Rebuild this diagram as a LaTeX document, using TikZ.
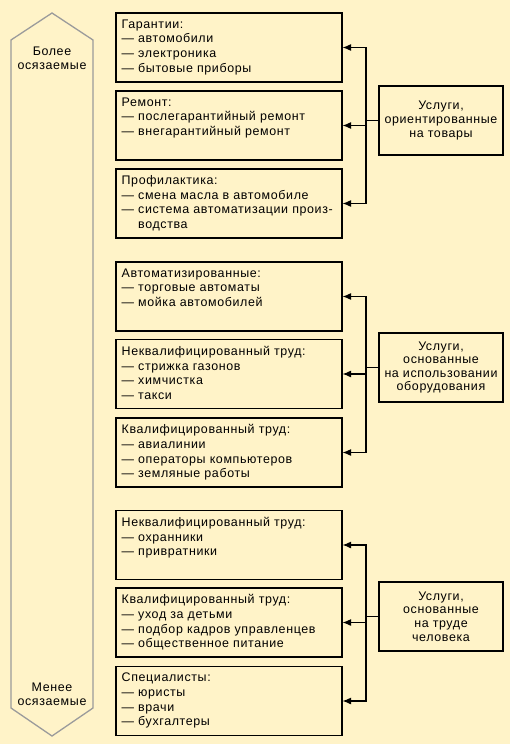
\documentclass[tikz,border=0pt]{standalone}
\usepackage{fontspec}
\setmainfont{Liberation Sans}[LetterSpace=5]
\usetikzlibrary{arrows.meta}
\definecolor{bg}{RGB}{255,243,200}
\definecolor{edge}{RGB}{155,155,155}
\newcommand{\dsh}{—\ }
\newcommand{\indt}{\phantom{—\ }}
\begin{document}
\begin{tikzpicture}[x=1bp,y=-1bp,
  box/.style={draw=black,line width=1.1bp,minimum width=226bp,minimum height=69bp,inner sep=0pt},
  rbox/.style={draw=black,line width=1.1bp,minimum width=124bp,minimum height=69bp,inner sep=0pt,align=center,font=\fontsize{12.5}{13.6}\selectfont},
  txt/.style={anchor=north west,align=left,inner sep=0pt,font=\fontsize{12.5}{14.7}\selectfont},
  side/.style={align=center,inner sep=0pt,font=\fontsize{12.5}{14}\selectfont},
  conn/.style={line width=1.1bp},
  arr/.style={line width=1.1bp,-{Latex[length=8.5bp,width=7bp]}}]
\fill[bg] (0,0) rectangle (510,744);
\useasboundingbox (0,0) rectangle (510,744);
% side arrow shape
\draw[edge,line width=1.3bp] (11,40) -- (52,13) -- (93,40) -- (93,708) -- (52,736) -- (11,708) -- cycle;
\node[side] (more) at (52,58) {Более\\осязаемые};
\node[side] (less) at (52,694) {Менее\\осязаемые};
% group 1
\node[box] (b11) at (229,47.5) {};
\node[box] (b12) at (229,125.5) {};
\node[box] (b13) at (229,203.5) {};
\node[txt] at ([xshift=6bp,yshift=-7bp]b11.north west) {Гарантии:\\\dsh автомобили\\\dsh электроника\\\dsh бытовые приборы};
\node[txt] at ([xshift=6bp,yshift=-7bp]b12.north west) {Ремонт:\\\dsh послегарантийный ремонт\\\dsh внегарантийный ремонт};
\node[txt] at ([xshift=6bp,yshift=-7bp]b13.north west) {Профилактика:\\\dsh смена масла в автомобиле\\\dsh система автоматизации произ-\\\indt водства};
\node[rbox] (r1) at (441,120.5) {Услуги,\\ориентированные\\на товары};
\coordinate (j1) at (366,120.5);
\draw[conn] (r1.west) -- (j1);
\draw[arr] (j1) |- (b11.east);
\draw[arr] (j1) |- (b12.east);
\draw[arr] (j1) |- (b13.east);
% group 2
\node[box] (b21) at (229,296.5) {};
\node[box] (b22) at (229,374) {};
\node[box] (b23) at (229,452.5) {};
\node[txt] at ([xshift=6bp,yshift=-7bp]b21.north west) {Автоматизированные:\\\dsh торговые автоматы\\\dsh мойка автомобилей};
\node[txt] at ([xshift=6bp,yshift=-7bp]b22.north west) {Неквалифицированный труд:\\\dsh стрижка газонов\\\dsh химчистка\\\dsh такси};
\node[txt] at ([xshift=6bp,yshift=-7bp]b23.north west) {Квалифицированный труд:\\\dsh авиалинии\\\dsh операторы компьютеров\\\dsh земляные работы};
\node[rbox] (r2) at (441,367.5) {Услуги,\\основанные\\на использовании\\оборудования};
\coordinate (j2) at (366,367.5);
\draw[conn] (r2.west) -- (j2);
\draw[arr] (j2) |- (b21.east);
\draw[arr] (j2) |- (b22.east);
\draw[arr] (j2) |- (b23.east);
% group 3
\node[box] (b31) at (229,545) {};
\node[box] (b32) at (229,622.5) {};
\node[box] (b33) at (229,701) {};
\node[txt] at ([xshift=6bp,yshift=-7bp]b31.north west) {Неквалифицированный труд:\\\dsh охранники\\\dsh привратники};
\node[txt] at ([xshift=6bp,yshift=-7bp]b32.north west) {Квалифицированный труд:\\\dsh уход за детьми\\\dsh подбор кадров управленцев\\\dsh общественное питание};
\node[txt] at ([xshift=6bp,yshift=-7bp]b33.north west) {Специалисты:\\\dsh юристы\\\dsh врачи\\\dsh бухгалтеры};
\node[rbox] (r3) at (441,616.5) {Услуги,\\основанные\\на труде\\человека};
\coordinate (j3) at (366,616.5);
\draw[conn] (r3.west) -- (j3);
\draw[arr] (j3) |- (b31.east);
\draw[arr] (j3) |- (b32.east);
\draw[arr] (j3) |- (b33.east);
\end{tikzpicture}
\end{document}
